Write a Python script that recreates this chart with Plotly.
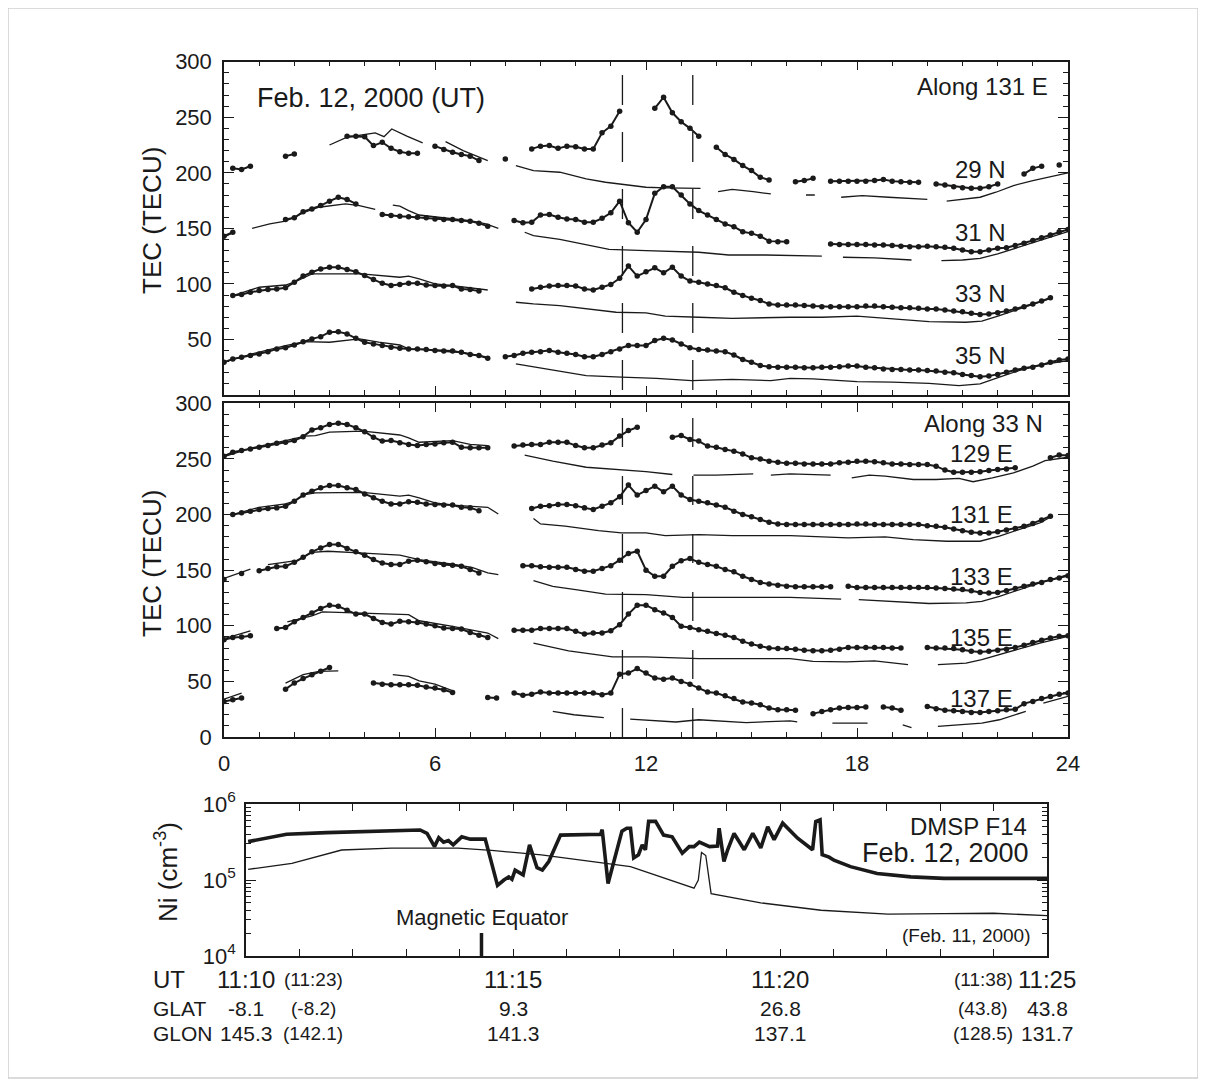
import plotly.graph_objects as go

W, H = 1206, 1086
OFF = 8  # page body margin offset
def px(x): return (x - OFF) / W
def py(y): return 1 - (y - OFF) / H

FONT = "Liberation Sans, Arial, Helvetica, sans-serif"
INK = "#1a1a1a"

# ---------------- DATA ----------------
hours_ticks = [0, 6, 12, 18, 24]
tec_y_ticks_top = [50, 100, 150, 200, 250, 300]
tec_y_ticks_mid = [0, 50, 100, 150, 200, 250, 300]
event_times = [11.33, 13.33]

# Dotted (Feb 12) series: (start UT hour, values every 15 min)
n29_dots = [(0.25, [204, 203, 206]), (1.75, [215, 217]),
            (3.5, [233, 233, 232.5, 224.5, 227.5, 222, 219, 217.5, 217.5]),
            (6.0, [224, 221, 218.5, 216.5, 215, 211]), (8.0, [212.5]),
            (8.75, [221.5, 224, 224.5, 222, 224, 223.5, 221.5, 221.5, 236, 242, 255.5]),
            (12.25, [258, 268, 254, 246, 240, 233]),
            (14.0, [223, 216.5, 212, 206.5, 202, 196, 193.5]),
            (16.25, [192, 193, 195]),
            (17.25, [192.5, 192.5, 192.5, 192.5, 192.5, 193, 194, 192.5, 192, 191.5, 191.5]),
            (20.25, [190, 189, 187.5, 186.5, 186, 186, 187.5, 190]),
            (22.75, [199, 204, 206]), (23.75, [207])]
n31_dots = [(0.0, [143, 146.5]),
            (1.75, [158, 159.5, 165, 167.5, 170.5, 174.5, 178, 176, 172]),
            (4.5, [162.5, 161.5, 161, 160.5, 160, 159.5, 158.5, 158, 158, 157, 156.5, 154.5, 152]),
            (8.25, [157, 155, 155.5, 162, 162.5, 160, 158.5, 158, 155.5, 155.5, 159, 164, 174.5, 155,
                    146.5, 158, 181.5, 187.5, 187.5, 180, 172, 166, 162, 158, 154, 151.5, 147, 145.5,
                    143, 138.5, 138, 138]),
            (17.25, [136, 135.5, 135.5, 135.5, 135.5, 135, 135, 134.5, 134, 133.5, 133.5, 134, 133.5,
                     133, 132, 130.5, 129, 129, 130.5, 132, 132.5, 134.5, 136.5, 139, 141.5, 144, 147, 149])]
n33_dots = [(0.25, [89.5, 90.5, 92.5, 94, 95, 95.5, 96.5, 101.5, 107, 110.5, 113.5, 115, 115, 113, 111,
                    107.5, 104, 100.5, 98.5, 99.5, 100.5, 100.5, 99, 98.5, 98, 98.5, 95.5, 95, 93.5]),
            (8.75, [95.5, 97, 98, 98.5, 98.5, 98, 95.5, 94.5, 97, 99.5, 105, 116, 107, 111, 114.5, 110,
                    115, 107, 102.5, 101.5, 100, 98.5, 96.5, 92.5, 89.5, 87, 85, 82, 81, 81, 81, 80.5,
                    80, 79.5, 79.5, 79.5, 79.5, 79.5, 80, 80, 79.5, 79, 78.5, 78.5, 78, 77.5, 77.5, 76.5,
                    75.5, 75, 73.5, 72.5, 73, 74, 75.5, 77.5, 79.5, 82, 84.5, 87.5])]
n35_dots = [(0.0, [29.5, 32.5, 34, 35.5, 37, 39, 41.5, 42.5, 45, 48, 50.5, 52.5, 56.5, 57, 55, 51, 47.5,
                   46, 44.5, 43, 42, 41.5, 41.5, 41, 40, 39.5, 39.5, 38.5, 36.5, 35.5, 33]),
            (8.0, [34.5, 35.5, 37.5, 38.5, 39, 40, 38.5, 37.5, 36.5, 34.5, 34.5, 36.5, 39, 41.5, 44.5,
                   44.5, 44.5, 49, 51, 49.5, 46, 42.5, 41, 40.5, 39.5, 39, 36, 32, 29.5, 26.5, 25.5, 25,
                   25, 25, 24.5, 24.5, 25, 25, 25.5, 26, 26, 25, 24.5, 23.5, 23, 23, 22.5, 22.5, 22,
                   21.5, 20.5, 20, 18.5, 17.5, 16.5, 17, 18.5, 20.5, 22.5, 24, 25, 27, 29.5, 31.5, 32.5])]

# Thin (reference) lines: UT hours and TEC, None = gap
n29_ref_t = [0.6, 0.8, None, 3.0, 3.5, 4.3, 4.55, 4.77, 5.2, 5.65, None, 6.3, 6.8, 7.5, None, 8.3, 8.8,
             9.55, 10.3, 10.85, 11.3, 12.0, 12.55, 13.55, None, 14.05, 14.45, 15.05, 15.55, None, 16.55,
             16.8, None, 17.55, 18.15, 18.9, 20.0, None, 20.55, 21.5, 21.95, 22.45, 23.0, 23.45, 24.0]
n29_ref_v = [204, 207, None, 225, 232, 236, 232.5, 239.5, 233, 227, None, 228, 220, 211, None, 206.5,
             202, 200.5, 194.5, 191.5, 189.5, 187, 186.5, 186, None, 183, 185, 183, 181, None, 180,
             180, None, 178, 179.5, 178, 176, None, 174.5, 178, 182.5, 188.5, 193, 196, 200]
n31_ref_t = [0.0, 0.25, None, 0.8, 1.3, 1.75, 2.3, 2.7, 3.45, 3.85, 4.3, None, 4.8, 5.0, 5.25, 5.55,
             6.1, 7.0, 7.45, 7.8, None, 8.55, 8.8, 9.55, 10.3, 10.95, 12.0, 13.5, 14.35, 15.4, 17.0,
             None, 17.6, 18.5, 19.55, None, 20.4, 21.0, 21.5, 22.0, 22.6, 23.2, 23.6, 24.0]
n31_ref_v = [142, 146, None, 150, 154, 156.5, 164.5, 169, 172, 170.5, 167, None, 171, 170, 166, 162,
             160, 157, 154, 150, None, 146.5, 143.5, 140, 135, 131, 130, 128.5, 126, 126, 125, None,
             124, 123.5, 121.5, None, 121, 121.5, 123, 127, 133, 139, 143, 147]
n33_ref_t = [0.25, 1.0, 1.75, 2.0, 2.5, 3.0, 3.9, 5.0, 5.25, 5.55, 6.0, 6.5, 7.5, None, 8.3, 8.8, 9.55,
             10.3, 11.15, 12.0, 12.55, 13.5, 14.45, 16.1, 17.0, 18.0, 19.0, 20.05, 21.1, 21.55, 22.05,
             22.6, 23.2, 23.55]
n33_ref_v = [89.5, 97, 99, 101.5, 109, 109, 109, 106, 107, 104.5, 100, 98.5, 94.5, None, 83.5, 82,
             80.5, 77.5, 74.5, 74, 71, 70, 69, 70, 70, 71, 68.5, 66, 65.5, 66.5, 71.5, 77.5, 83.5, 87.5]
n35_ref_t = [0.0, 0.8, 1.75, 2.3, 3.0, 3.85, 4.4, 5.0, 5.25, 6.5, 7.5, None, 8.3, 9.05, 9.7, 10.3,
             11.3, 12.3, 13.3, 14.45, 15.55, 16.1, 16.75, 18.0, 19.0, 20.05, 20.9, 21.5, 22.05, 22.6,
             23.2, 24.0]
n35_ref_v = [29.5, 37, 44.5, 48, 47.5, 50.5, 47.5, 45, 41.5, 40, 34, None, 28, 24, 20.5, 17.5, 16, 15,
             13, 14, 13, 15, 14.5, 12, 11.5, 10.5, 8.5, 10, 16, 22, 27, 31]

e129_dots = [(0.0, [252.5, 256, 257.5, 259, 260.5, 262, 264, 265, 266.5, 270, 276, 278, 281, 282, 281,
                    278, 274.5, 269.5, 266, 266.5, 264.5, 263, 262, 263, 263.5, 264.5, 265, 260.5, 260,
                    260, 260]),
             (8.25, [261.5, 262.5, 263, 263, 265, 265, 265, 262, 260, 260, 262.5, 264.5, 270.5, 275.5,
                     278.5]),
             (12.75, [269.5, 271, 267.5, 266, 261.5, 260.5, 258.5, 257, 254.5, 251, 250, 248, 247, 246,
                      246, 245.5, 245.5, 245.5, 245.5, 246.5, 247, 248, 248, 247.5, 246.5, 245.5, 245.5,
                      245, 245, 245, 243.5, 240, 238, 238, 238, 238.5, 239.5, 240.5, 241, 242]),
             (23.5, [251, 253.5, 253])]
e131_dots = [(0.25, [200, 201.5, 203, 204.5, 205.5, 206, 207.5, 212, 217.5, 221, 224, 226, 226, 224,
                     222.5, 218.5, 215, 212, 209.5, 209.5, 211.5, 211, 209.5, 209, 208.5, 208.5, 206.5,
                     206, 203.5]),
             (8.75, [205.5, 207.5, 208, 209, 209, 208, 206, 204.5, 207.5, 210.5, 216, 226.5, 217.5,
                     221.5, 225.5, 220.5, 225.5, 217.5, 213.5, 212, 210.5, 208.5, 206.5, 203, 200, 198,
                     195.5, 193, 191.5, 191, 191, 191, 191, 191, 191, 191, 191, 191.5, 191.5, 191, 191,
                     191, 191, 191, 191, 190, 189.5, 188.5, 187, 185.5, 184, 183.5, 183.5, 184.5, 186,
                     187.5, 189.5, 192, 195, 198.5])]
e133_dots = [(0.0, [141.5]), (0.5, [147]),
             (1.0, [149.5, 151.5, 153, 153.5, 157, 161.5, 166.5, 170, 173, 173, 169.5, 166.5, 163.5,
                    159.5, 156.5, 155, 155, 158, 159, 157.5, 156, 155, 154.5, 153.5, 150.5, 147.5]),
             (8.5, [154, 154, 153, 152.5, 152.5, 152.5, 150.5, 149, 149, 151.5, 154, 159, 165, 167, 150,
                    144.5, 144.5, 153.5, 158.5, 160.5, 157, 155, 153.5, 150.5, 148.5, 144.5, 141.5, 139,
                    137.5, 136.5, 135.5, 135, 135, 135, 135, 135]),
             (17.75, [135.5, 134.5, 134.5, 134.5, 134.5, 134.5, 134.5, 134.5, 134.5, 134.5, 134, 133.5,
                      133, 132.5, 131.5, 130, 129.5, 130, 131.5, 133.5, 135.5, 137.5, 139, 141.5, 143, 145])]
e135_dots = [(0.0, [87.5, 89.5, 90, 91]),
             (1.5, [97.5, 98.5, 103.5, 107.5, 111.5, 115.5, 118.5, 117.5, 114, 110.5, 110.5, 106.5, 103,
                    101.5, 104, 103.5, 103, 101.5, 100, 98, 97.5, 97, 94, 91.5, 89.5]),
             (8.25, [96, 96, 96, 97.5, 97.5, 97.5, 97.5, 95, 92.5, 93.5, 93.5, 95.5, 101, 110.5, 118.5,
                     118.5, 114.5, 111.5, 107.5, 99.5, 98.5, 96.5, 95, 93, 91.5, 89.5, 86, 83.5, 81.5, 80,
                     79.5, 79.5, 79, 78, 77.5, 77.5, 78, 79, 80.5, 80.5, 80.5, 80.5, 80.5, 80, 80]),
             (20.0, [80.5, 80, 80, 79.5, 78.5, 77, 76.5, 77, 78, 79, 80.5, 82.5, 85, 87, 89, 90.5, 91])]
e137_dots = [(0.0, [32, 33.5, 35]), (1.75, [43, 48.5, 52.5, 56, 59, 62.5]),
             (4.25, [48.5, 47.5, 47, 47, 47, 46.5, 45, 44, 42.5, 40]), (7.5, [35.5, 35]),
             (8.25, [39.5, 37.5, 38.5, 40.5, 39.5, 39.5, 39.5, 39.5, 39.5, 39.5, 38, 39.5, 56.5, 57.5,
                     61.5, 57.5, 53, 52, 53, 50, 47.5, 44, 40.5, 39.5, 37, 34.5, 31.5, 30.5, 29, 26, 24.5,
                     24.5, 24]),
             (16.75, [21, 23, 24.5, 26, 26.5, 26.5, 27]), (18.75, [27, 26, 24]),
             (20.0, [27.5, 25.5, 24, 23.5, 23, 22, 22, 23, 23.5, 24.5, 25, 30, 32, 34.5, 36.5, 38.5, 39.5])]

e129_ref_t = [0.0, 0.8, 1.75, 2.3, 2.6, 3.0, 3.95, 5.0, 5.25, 5.55, 6.5, 7.0, 7.5, None, 8.55, 9.35,
              10.3, 11.25, 12.0, 12.75, None, 13.35, 14.0, 15.05, None, 15.55, 16.1, 17.25, None, 17.85,
              18.35, 18.8, 19.6, 20.25, 20.9, 21.3, 21.85, 22.45, 23.0, 23.35, 23.55, 24.0]
e129_ref_v = [252, 260, 266.5, 270.5, 271, 274, 275, 271.5, 269, 265, 266.5, 263, 262, None, 253.5,
              248, 242.5, 240.5, 238.5, 236, None, 235.5, 235.5, 236.5, None, 235.5, 236.5, 235.5, None,
              233, 235.5, 234.5, 231.5, 231.5, 232.5, 229.5, 233, 237.5, 243.5, 248.5, 249.5, 251.5]
e131_ref_t = [0.25, 1.0, 1.75, 2.0, 2.3, 2.6, 3.95, 5.0, 5.25, 5.55, 6.0, 6.5, 7.5, 7.8, None, 8.8, 9.0,
              9.7, 10.65, 11.3, 12.0, 12.55, 13.5, 14.45, 16.1, 17.75, 18.8, 19.6, 20.55, 21.5, 22.05,
              22.6, 23.2, 23.55]
e131_ref_v = [200, 206.5, 209.5, 212, 218, 219.5, 220, 216.5, 217.5, 215, 210.5, 208.5, 206.5, 200.5,
              None, 196.5, 191.5, 189.5, 185.5, 183.5, 183.5, 181, 182, 181, 181, 179, 180, 177.5, 176,
              176, 180.5, 186.5, 192.5, 198.5]
e133_ref_t = [0.0, 0.75, None, 1.25, 2.05, 2.5, 2.95, 3.85, 5.0, 5.55, 6.5, 7.05, 7.5, 7.8, None, 8.8,
              9.35, 10.0, 10.85, 12.0, 13.05, 16.1, 17.55, None, 18.05, 19.0, 20.05, 21.1, 21.55, 22.05,
              22.6, 23.2, 24.0]
e133_ref_v = [142.5, 151, None, 155, 158.5, 166, 167, 165.5, 163.5, 159.5, 155.5, 152.5, 147.5, 146,
              None, 140.5, 135.5, 132.5, 128.5, 128, 125.5, 125.5, 124, None, 123.5, 122, 120, 120.5,
              122, 126.5, 132.5, 138.5, 146]
e135_ref_t = [0.0, 0.75, None, 1.8, 2.5, 2.8, 3.95, 5.0, 5.25, 5.55, 6.5, 7.5, 7.8, None, 8.8, 9.8,
              11.05, 12.0, 13.5, 16.1, 16.75, 17.7, 18.5, 19.45, None, 20.3, 21.1, 21.55, 22.05, 22.6,
              23.2, 24.0]
e135_ref_v = [88.5, 95.5, None, 103.5, 109, 112.5, 111.5, 110, 110, 104.5, 99.5, 93.5, 88.5, None, 84.5,
              77.5, 72, 72, 70.5, 70.5, 68, 67.5, 68.5, 65, None, 65, 66.5, 69.5, 74, 78.5, 84.5, 90.5]
e137_ref_t = [0.0, 0.5, None, 1.75, 2.25, 2.7, 3.25, None, 4.8, 5.25, 5.55, 6.0, 6.55, None, 9.35, 9.95,
              10.8, None, 11.55, 12.3, 12.85, 13.5, 14.0, 14.85, 16.1, 16.3, None, 17.3, 18.3, None,
              19.3, 19.55, None, 20.3, 21.1, 21.55, 22.05, 22.8, None, 23.3, 24.0]
e137_ref_v = [34, 39.5, None, 48.5, 56, 59, 59.5, None, 56, 54.5, 50.5, 47.5, 41, None, 23, 20, 17.5,
              None, 16, 14.5, 13.5, 15.5, 14.5, 13, 14.5, 13.5, None, 12.5, 12.5, None, 11, 8.5, None,
              9.5, 11, 12.5, 15.5, 23, None, 30.5, 36.5]

lat_labels = ["29 N", "31 N", "33 N", "35 N"]
lon_labels = ["129 E", "131 E", "133 E", "135 E", "137 E"]

# DMSP F14 ion density: minutes after 11:10 UT, Ni (cm^-3)
dmsp_feb12_min = [0.04, 0.76, 1.51, 3.26, 3.39, 3.53, 3.61, 3.70, 3.79, 3.88, 4.04, 4.20, 4.48, 4.71,
                  4.83, 4.92, 4.98, 5.04, 5.19, 5.31, 5.45, 5.55, 5.67, 5.89, 6.64, 6.67, 6.78, 7.04,
                  7.13, 7.20, 7.26, 7.35, 7.42, 7.48, 7.54, 7.67, 7.82, 7.98, 8.17, 8.30, 8.39, 8.49,
                  8.68, 8.83, 8.86, 8.95, 9.02, 9.14, 9.33, 9.49, 9.64, 9.77, 9.89, 10.05, 10.33, 10.61,
                  10.67, 10.75, 10.79, 10.92, 11.01, 11.32, 11.82, 12.45, 13.07, 15.0]
dmsp_feb12_ni = [3.2e5, 4.0e5, 4.2e5, 4.55e5, 4.1e5, 2.75e5, 3.6e5, 3.15e5, 3.3e5, 2.9e5, 3.7e5,
                 3.45e5, 3.45e5, 8.5e4, 1.0e5, 1.1e5, 1.02e5, 1.35e5, 1.17e5, 2.9e5, 1.45e5, 1.35e5,
                 1.75e5, 3.9e5, 4.0e5, 4.6e5, 9.0e4, 4.4e5, 4.8e5, 4.8e5, 1.95e5, 2.15e5, 2.9e5, 2.5e5,
                 5.9e5, 5.9e5, 3.9e5, 3.7e5, 2.25e5, 2.75e5, 2.75e5, 3.15e5, 2.75e5, 2.8e5, 4.8e5,
                 1.75e5, 2.5e5, 4.1e5, 2.5e5, 4.1e5, 2.65e5, 5.0e5, 3.4e5, 5.6e5, 3.55e5, 2.5e5, 5.9e5,
                 6.2e5, 2.15e5, 2.0e5, 1.82e5, 1.5e5, 1.22e5, 1.1e5, 1.05e5, 1.05e5]
dmsp_feb11_min = [0.04, 0.86, 1.79, 2.72, 3.97, 4.6, 5.53, 6.47, 7.2, 8.39, 8.47, 8.53, 8.61, 8.71,
                  9.64, 10.77, 12.02, 13.07, 14.0, 15.0]
dmsp_feb11_ni = [1.38e5, 1.66e5, 2.48e5, 2.63e5, 2.63e5, 2.45e5, 2.14e5, 1.74e5, 1.5e5, 7.8e4, 1.0e5,
                 2.3e5, 2.1e5, 6.6e4, 5.0e4, 4.0e4, 3.55e4, 3.6e4, 3.65e4, 3.4e4]
mag_equator_min = 4.41

ut_labels = [(0, "11:10", "(11:23)"), (5, "11:15", None), (10, "11:20", None), (15, "11:25", "(11:38)")]
glat_labels = [(0, "-8.1", "(-8.2)"), (5, "9.3", None), (10, "26.8", None), (15, "43.8", "(43.8)")]
glon_labels = [(0, "145.3", "(142.1)"), (5, "141.3", None), (10, "137.1", None), (15, "131.7", "(128.5)")]


def seg_series(segs):
    xs, ys = [], []
    for i, (t0, vals) in enumerate(segs):
        if i:
            xs.append(None); ys.append(None)
        for k, v in enumerate(vals):
            xs.append(t0 + 0.25 * k); ys.append(v)
    return xs, ys


fig = go.Figure()

def add_dots(segs, xa, ya):
    xs, ys = seg_series(segs)
    fig.add_trace(go.Scatter(x=xs, y=ys, mode="lines+markers", xaxis=xa, yaxis=ya,
                             line=dict(color=INK, width=2), marker=dict(color=INK, size=5.5),
                             connectgaps=False, showlegend=False, hoverinfo="skip"))

def add_ref(t, v, xa, ya):
    fig.add_trace(go.Scatter(x=t, y=v, mode="lines", xaxis=xa, yaxis=ya,
                             line=dict(color=INK, width=1.3), connectgaps=False,
                             showlegend=False, hoverinfo="skip"))

for segs, (t, v) in [(n29_dots, (n29_ref_t, n29_ref_v)), (n31_dots, (n31_ref_t, n31_ref_v)),
                     (n33_dots, (n33_ref_t, n33_ref_v)), (n35_dots, (n35_ref_t, n35_ref_v))]:
    add_ref(t, v, "x", "y")
    add_dots(segs, "x", "y")

for segs, (t, v) in [(e129_dots, (e129_ref_t, e129_ref_v)), (e131_dots, (e131_ref_t, e131_ref_v)),
                     (e133_dots, (e133_ref_t, e133_ref_v)), (e135_dots, (e135_ref_t, e135_ref_v)),
                     (e137_dots, (e137_ref_t, e137_ref_v))]:
    add_ref(t, v, "x2", "y2")
    add_dots(segs, "x2", "y2")

fig.add_trace(go.Scatter(x=dmsp_feb11_min, y=dmsp_feb11_ni, mode="lines", xaxis="x3", yaxis="y3",
                         line=dict(color=INK, width=1.3), showlegend=False, hoverinfo="skip"))
fig.add_trace(go.Scatter(x=dmsp_feb12_min, y=dmsp_feb12_ni, mode="lines", xaxis="x3", yaxis="y3",
                         line=dict(color=INK, width=3.6), showlegend=False, hoverinfo="skip"))

tickfont = dict(family=FONT, size=22, color=INK)
common_ax = dict(showline=True, linecolor=INK, linewidth=1.5, mirror="ticks", ticks="inside",
                 tickcolor=INK, tickwidth=1.3, showgrid=False, zeroline=False, tickfont=tickfont,
                 automargin=False)

xdom = [px(224), px(1068)]
fig.update_layout(
    width=W, height=H, margin=dict(l=0, r=0, t=0, b=0, pad=0, autoexpand=False),
    paper_bgcolor="white", plot_bgcolor="white",
    xaxis=dict(domain=xdom, range=[0, 24], anchor="y", tickmode="array", tickvals=hours_ticks,
               ticklen=9, showticklabels=False,
               minor=dict(tickmode="linear", tick0=0, dtick=1, ticklen=5, ticks="inside",
                          tickcolor=INK, tickwidth=1.2), **common_ax),
    yaxis=dict(domain=[py(395), py(61.7)], range=[0, 300], anchor="x", tickmode="array",
               tickvals=tec_y_ticks_top, ticklen=10, ticklabelstandoff=6,
               minor=dict(tickmode="linear", tick0=0, dtick=10, ticklen=5, ticks="inside",
                          tickcolor=INK, tickwidth=1.2), **common_ax),
    xaxis2=dict(domain=xdom, range=[0, 24], anchor="y2", tickmode="array", tickvals=hours_ticks,
                ticklen=9, ticklabelstandoff=6,
                minor=dict(tickmode="linear", tick0=0, dtick=1, ticklen=5, ticks="inside",
                           tickcolor=INK, tickwidth=1.2), **common_ax),
    yaxis2=dict(domain=[py(737), py(403.3)], range=[0, 300], anchor="x2", tickmode="array",
                tickvals=tec_y_ticks_mid, ticklen=10, ticklabelstandoff=6,
                minor=dict(tickmode="linear", tick0=0, dtick=10, ticklen=5, ticks="inside",
                           tickcolor=INK, tickwidth=1.2), **common_ax),
    xaxis3=dict(domain=[px(246), px(1047)], range=[0, 15], anchor="y3", tickmode="linear", tick0=0,
                dtick=1, ticklen=7, showticklabels=False, **common_ax),
    yaxis3=dict(domain=[py(956), py(804)], type="log", range=[4, 6], anchor="x3", tickmode="array",
                tickvals=[1e4, 1e5, 1e6], ticktext=["10<sup>4</sup>", "10<sup>5</sup>", "10<sup>6</sup>"],
                ticklen=10, ticklabelstandoff=4,
                minor=dict(tickmode="array",
                           tickvals=[m * 10 ** e for e in (4, 5) for m in range(2, 10)],
                           ticklen=5, ticks="inside", tickcolor=INK, tickwidth=1.2), **common_ax),
)

shapes = []
for t in event_times:
    shapes.append(dict(type="line", xref="x", yref="paper", x0=t, x1=t, y0=py(75), y1=py(395),
                       line=dict(color=INK, width=1.3, dash="30px,27px")))
    shapes.append(dict(type="line", xref="x2", yref="paper", x0=t, x1=t, y0=py(418), y1=py(737),
                       line=dict(color=INK, width=1.3, dash="29px,29px")))
shapes.append(dict(type="line", xref="x3", yref="paper", x0=mag_equator_min, x1=mag_equator_min,
                   y0=py(933), y1=py(956), line=dict(color=INK, width=3.5)))
shapes.append(dict(type="rect", xref="paper", yref="paper", x0=px(8), x1=px(1198), y0=py(1078), y1=py(8),
                   line=dict(color="#cfcfcf", width=1.5)))
fig.update_layout(shapes=shapes)

ann = []
def text(x, y, s, size, xanchor="center", angle=0):
    ann.append(dict(x=px(x), y=py(y), xref="paper", yref="paper", text=s, showarrow=False,
                    xanchor=xanchor, yanchor="middle", textangle=angle,
                    font=dict(family=FONT, size=size, color=INK)))

text(152, 221, "TEC (TECU)", 26, angle=-90)
text(152, 564, "TEC (TECU)", 26, angle=-90)
text(166, 872, "Ni (cm<sup>-3</sup>)", 26, angle=-90)
text(255, 98, "Feb. 12, 2000 (UT)", 27, xanchor="left")
text(1050, 87, "Along 131 E", 24, xanchor="right")
for lab, y in zip(lat_labels, [170, 232, 293, 355]):
    text(1008, y, lab, 24, xanchor="right")
text(1045, 423, "Along 33 N", 24, xanchor="right")
for lab, y in zip(lon_labels, [453, 514, 576, 637, 698]):
    text(1015, y, lab, 24, xanchor="right")
text(1029, 826, "DMSP F14", 24, xanchor="right")
text(1031, 853, "Feb. 12, 2000", 27, xanchor="right")
text(1033, 935, "(Feb. 11, 2000)", 19, xanchor="right")
text(482, 917, "Magnetic Equator", 22)

def minute_x(m):
    return 246 + m * (1047 - 246) / 15.0

text(151, 979, "UT", 24, xanchor="left")
text(151, 1008, "GLAT", 21, xanchor="left")
text(151, 1033, "GLON", 21, xanchor="left")
row_info = [(ut_labels, 979, 24, 19), (glat_labels, 1008, 21, 19), (glon_labels, 1033, 21, 19)]
for labels, y, big, small in row_info:
    for m, main, paren in labels:
        text(minute_x(m), y, main, big)
        if paren:
            if m == 0:
                text(313, y, paren, small)
            else:
                text(983, y, paren, small)
fig.update_layout(annotations=ann)

fig.write_html("out.html")
